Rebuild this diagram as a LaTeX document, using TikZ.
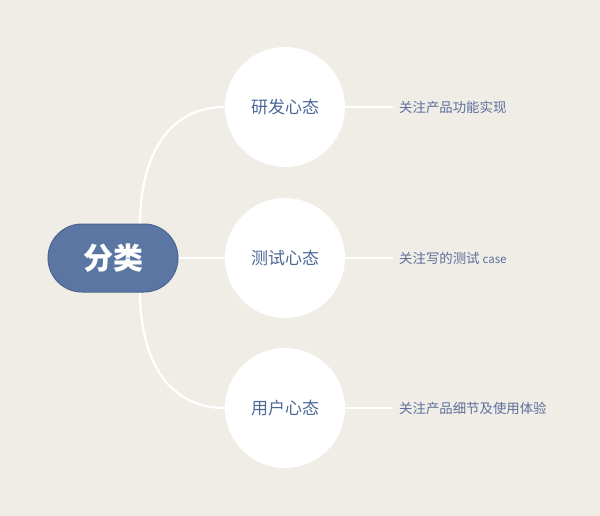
\documentclass[tikz,border=0pt]{standalone}
\usepackage{fontspec}
\setmainfont{Noto Sans CJK SC}
\begin{document}
\begin{tikzpicture}[x=1pt,y=-1pt,
  rootbox/.style={draw=rootline,line width=1pt,fill=rootfill,rounded corners=34pt,minimum width=130pt,minimum height=68pt,text=white,font=\fontsize{30}{32}\selectfont\bfseries,inner sep=0pt},
  bubble/.style={circle,fill=white,minimum size=120pt,inner sep=0pt,text=bubtext,font=\fontsize{17}{19}\selectfont},
  note/.style={anchor=west,inner sep=0pt,text=notetext,font=\fontsize{13.4}{15}\selectfont},
  link/.style={draw=white,line width=2.3pt}]
\definecolor{bg}{HTML}{F0ECE6}
\definecolor{rootfill}{HTML}{5B76A2}
\definecolor{rootline}{HTML}{4A6590}
\definecolor{bubtext}{HTML}{4D6898}
\definecolor{notetext}{HTML}{5C6F9C}
\useasboundingbox[fill=bg] (0,0) rectangle (600,516);
\node[bubble] (c1) at (285,107) {研发心态};
\node[bubble] (c2) at (285,258) {测试心态};
\node[bubble] (c3) at (285,408) {用户心态};
\node[note] (l1) at (399,107) {关注产品功能实现};
\node[note] (l2) at (399,258) {关注写的测试 {\fontsize{11.5}{12}\selectfont case}};
\node[note] (l3) at (399,408) {关注产品细节及使用体验};
\coordinate (t1) at (140,226);
\coordinate (t3) at (140,290);
\draw[link] (t1) .. controls (140,150) and (172,107) .. (c1.west);
\draw[link] (t3) .. controls (140,366) and (172,408) .. (c3.west);
\node[rootbox] (root) at (113,258) {分类};
\draw[link] (root.east) -- (c2.west);
\draw[link,line width=1.8pt] (c1.east) -- ([xshift=-6pt]l1.west);
\draw[link,line width=1.8pt] (c2.east) -- ([xshift=-6pt]l2.west);
\draw[link,line width=1.8pt] (c3.east) -- ([xshift=-6pt]l3.west);
\end{tikzpicture}
\end{document}
